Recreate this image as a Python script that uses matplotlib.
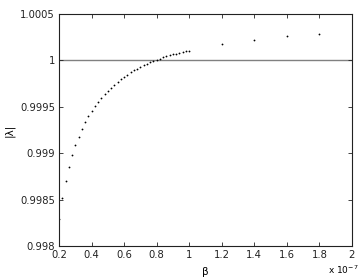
import matplotlib
matplotlib.use('Agg')
import matplotlib.pyplot as plt

plt.rcParams['font.family'] = ['DejaVu Sans']

# beta (x 1e-7) and |lambda|
beta = [0.20, 0.22, 0.24, 0.26, 0.28, 0.30, 0.32, 0.34, 0.36, 0.38,
        0.40, 0.42, 0.44, 0.46, 0.48, 0.50, 0.52, 0.54, 0.56, 0.58,
        0.60, 0.62, 0.64, 0.66, 0.68, 0.70, 0.72, 0.74, 0.76, 0.78,
        0.80, 0.82, 0.84, 0.86, 0.88, 0.90, 0.92, 0.94, 0.96, 0.98,
        1.00, 1.20, 1.40, 1.60, 1.80]
lam = [0.998291, 0.998517, 0.998700, 0.998851, 0.998981, 0.999088,
       0.999178, 0.999261, 0.999336, 0.999401, 0.999458, 0.999512,
       0.999555, 0.999600, 0.999638, 0.999674, 0.999708, 0.999740,
       0.999770, 0.999798, 0.999824, 0.999848, 0.999871, 0.999892,
       0.999912, 0.999930, 0.999948, 0.999964, 0.999979, 0.999993,
       1.000006, 1.000019, 1.000032, 1.000044, 1.000055, 1.000065,
       1.000074, 1.000082, 1.000090, 1.000097, 1.000104,
       1.000177, 1.000223, 1.000266, 1.000288]

xticks = [0.2, 0.4, 0.6, 0.8, 1, 1.2, 1.4, 1.6, 1.8, 2]
xticklabels = ['0.2', '0.4', '0.6', '0.8', '1', '1.2', '1.4', '1.6', '1.8', '2']
yticks = [0.998, 0.9985, 0.999, 0.9995, 1.0, 1.0005]
yticklabels = ['0.998', '0.9985', '0.999', '0.9995', '1', '1.0005']

fig = plt.figure(figsize=(3.58, 2.8), dpi=100)
ax = fig.add_axes([0.165, 0.121, 0.818, 0.829])

ax.axhline(1.0, color='#808080', linewidth=1.0, zorder=1)
ax.plot(beta, lam, linestyle='none', marker='o', markersize=1.3,
        markeredgewidth=0, color='black', zorder=2)

ax.set_xlim(0.2, 2)
ax.set_ylim(0.998, 1.0005)
ax.set_xticks(xticks)
ax.set_xticklabels(xticklabels)
ax.set_yticks(yticks)
ax.set_yticklabels(yticklabels)
ax.tick_params(direction='in', length=3, width=0.6, labelsize=7.2,
               top=True, right=True, colors='#222222')
ax.tick_params(axis='y', pad=3)
ax.tick_params(axis='x', pad=3)
for s in ax.spines.values():
    s.set_linewidth(0.8)
    s.set_color('#222222')

ax.set_xlabel('β', fontsize=7.5, labelpad=5)
ax.set_ylabel('|λ|', fontsize=7.5, labelpad=4)
fig.text(0.958, 0.035, r'x 10$^{-7}$', fontsize=6.5, ha='center', va='center')

fig.savefig('out.png', dpi=100)
